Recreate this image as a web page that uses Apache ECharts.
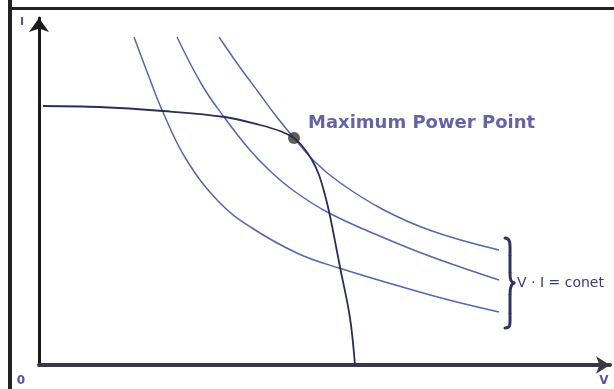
<!DOCTYPE html>
<html>
<head>
<meta charset="utf-8">
<script src="https://cdn.jsdelivr.net/npm/echarts@6/dist/echarts.min.js"></script>
<style>
  html, body { margin: 0; padding: 0; background: #ffffff; }
  #chart { width: 614px; height: 389px; }
</style>
</head>
<body>
<div id="chart"></div>
<script>
// I–V characteristic of a PV source and three constant-power hyperbolas (V · I = const)
const ivCurve = [
  [0.4, 25.9], [6.0, 25.8], [12.4, 25.4], [18.6, 24.8], [22.1, 24.0],
  [24.1, 23.4], [25.5, 22.7], [26.4, 21.8], [27.3, 20.5], [28.0, 19.0],
  [28.6, 17.0], [29.1, 14.9], [30.1, 9.8], [31.1, 4.7], [31.6, 0]
];
const powerLow = [
  [9.5, 32.8], [11.0, 28.8], [12.3, 25.5], [14.7, 20.6], [18.0, 16.3],
  [21.3, 13.7], [26.0, 11.1], [30.0, 9.7], [36.0, 7.9], [41.0, 6.5], [46.0, 5.3]
];
const powerMid = [
  [13.8, 32.8], [16.3, 28.0], [18.5, 24.8], [21.0, 21.6], [23.0, 19.5],
  [25.5, 17.4], [29.0, 15.2], [34.3, 12.8], [39.3, 10.8], [46.0, 8.5]
];
const powerHigh = [
  [18.0, 32.8], [20.0, 29.9], [22.0, 27.2], [23.7, 24.9], [25.5, 22.7],
  [27.5, 20.4], [30.0, 18.3], [34.3, 15.6], [39.3, 13.4], [46.0, 11.5]
];
const mpp = [25.5, 22.7];

const mppLabel = 'Maximum Power Point';
const constLabel = 'V · I = conet';
const originLabel = '0';
const xName = 'V';
const yName = 'I';

const hyperColor = '#5468ac';
const braceColor = '#2e3566';
const chart = echarts.init(document.getElementById('chart'), null, { renderer: 'canvas' });

function hyper(data) {
  return {
    type: 'line', data: data, smooth: 0.4, symbol: 'none', silent: true,
    lineStyle: { color: hyperColor, width: 1.5 }, z: 2
  };
}

// curly brace built from bezier pieces and straight runs
function braceCurve(x1, y1, cx1, cy1, cx2, cy2, x2, y2) {
  return { type: 'bezierCurve',
    shape: { x1: x1, y1: y1, cpx1: cx1, cpy1: cy1, cpx2: cx2, cpy2: cy2, x2: x2, y2: y2 },
    style: { fill: null, stroke: braceColor, lineWidth: 3, lineCap: 'round' } };
}
function braceLine(x1, y1, x2, y2) {
  return { type: 'line', shape: { x1: x1, y1: y1, x2: x2, y2: y2 },
    style: { stroke: braceColor, lineWidth: 3 } };
}

chart.setOption({
  animation: false,
  backgroundColor: '#ffffff',
  grid: { left: 39, right: 4, top: 18, bottom: 24, containLabel: false },
  xAxis: {
    type: 'value', min: 0, max: 57.1,
    axisLine: { show: true, symbol: ['none', 'arrow'], symbolSize: [13, 14],
      lineStyle: { color: '#383848', width: 4 } },
    axisTick: { show: false }, axisLabel: { show: false }, splitLine: { show: false }
  },
  yAxis: {
    type: 'value', min: 0, max: 34.7,
    axisLine: { show: true, symbol: ['none', 'arrow'], symbolSize: [15, 14],
      lineStyle: { color: '#1a1a1a', width: 3 } },
    axisTick: { show: false }, axisLabel: { show: false }, splitLine: { show: false }
  },
  series: [
    hyper(powerLow),
    hyper(powerMid),
    hyper(powerHigh),
    {
      type: 'line', data: ivCurve, smooth: 0.35, symbol: 'none', silent: true,
      lineStyle: { color: '#2a2e58', width: 1.8 }, z: 3
    },
    {
      type: 'scatter', data: [mpp], symbol: 'circle', symbolSize: 12, z: 4,
      itemStyle: { color: '#333338' },
      label: {
        show: true, position: 'right', offset: [3, -15],
        formatter: mppLabel,
        fontFamily: 'DejaVu Sans', fontWeight: 'bold', fontSize: 18,
        color: '#3c3c90'
      }
    }
  ],
  graphic: [
    // scanned frame edges
    { type: 'rect', shape: { x: 8, y: 0, width: 4, height: 389 }, style: { fill: '#222' } },
    { type: 'rect', shape: { x: 8, y: 7, width: 606, height: 3 }, style: { fill: '#222' } },
    braceCurve(505, 238, 511, 238, 510, 245, 510, 255),
    braceLine(510, 255, 510, 273),
    braceCurve(510, 273, 510, 280, 511, 282, 514, 283),
    braceCurve(514, 283, 511, 284, 510, 287, 510, 294),
    braceLine(510, 294, 510, 314),
    braceCurve(510, 314, 510, 325, 511, 328, 505, 328),
    { type: 'text', x: 517, y: 283, style: {
        text: constLabel, fontFamily: 'DejaVu Sans', fontSize: 14,
        fill: '#3a3a7a', verticalAlign: 'middle', align: 'left' } },
    { type: 'text', x: 21, y: 381, style: {
        text: originLabel, fontFamily: 'DejaVu Sans', fontWeight: 'bold', fontSize: 12,
        fill: '#5555a5', verticalAlign: 'middle', align: 'center' } },
    { type: 'text', x: 604, y: 381, style: {
        text: xName, fontFamily: 'DejaVu Sans', fontWeight: 'bold', fontSize: 12,
        fill: '#5555a5', verticalAlign: 'middle', align: 'center' } },
    { type: 'text', x: 22, y: 22, style: {
        text: yName, fontFamily: 'DejaVu Sans', fontWeight: 'bold', fontSize: 11,
        fill: '#4a5aa5', verticalAlign: 'middle', align: 'center' } }
  ]
});
</script>
</body>
</html>
